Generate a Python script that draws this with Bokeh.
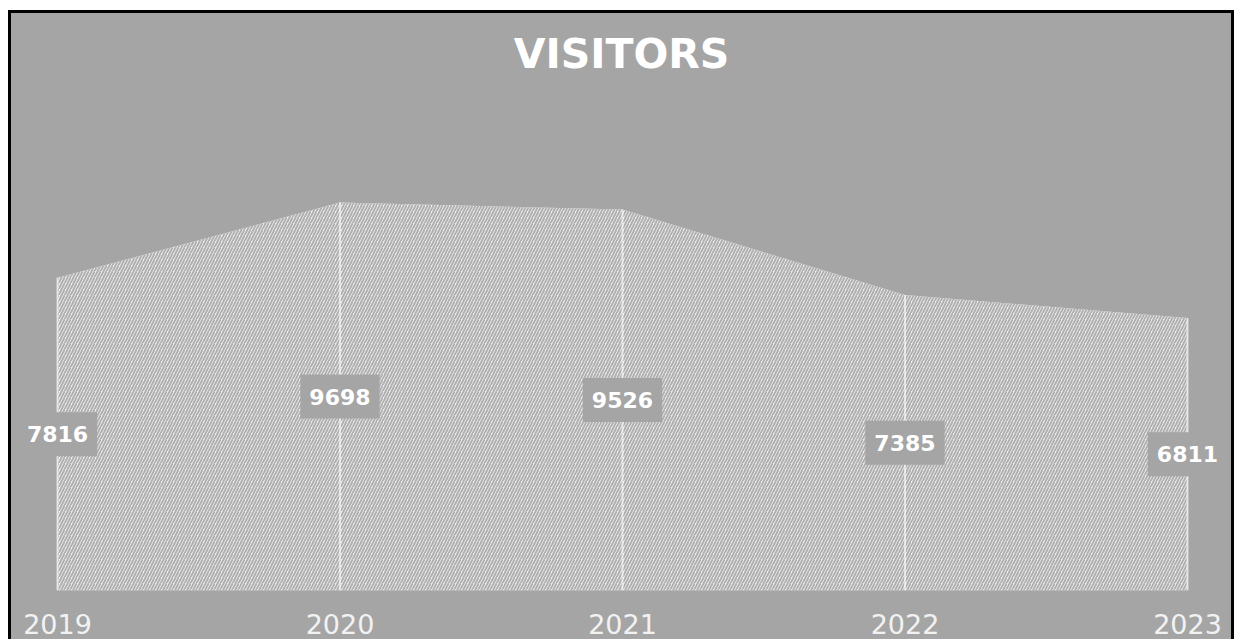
from bokeh.plotting import figure
from bokeh.models import ColumnDataSource, Range1d, FixedTicker
from bokeh.core.properties import value
from bokeh.embed import file_html
from bokeh.resources import INLINE

years = ["2019", "2020", "2021", "2022", "2023"]
visitors = [7816, 9698, 9526, 7385, 6811]

xs = list(range(len(years)))
src = ColumnDataSource(dict(
    x=xs,
    y=visitors,
    y0=[0] * len(years),
    ymid=[v / 2 for v in visitors],
    lab=[str(v) for v in visitors],
))

BG = "#a5a5a5"

p = figure(
    width=1220, height=626,
    output_backend="svg", toolbar_location=None,
    x_range=Range1d(-0.1628, 4.1558),
    y_range=Range1d(0, 12450),
    y_axis_location=None,
    min_border_left=0, min_border_right=0,
    min_border_top=79, min_border_bottom=49,
    background_fill_color=None, border_fill_color=None,
    outline_line_color=None,
    title="VISITORS",
)
p.styles = {"outline": "3px solid #000000",
            "background-color": BG,
            "margin-left": "11px", "margin-top": "13px"}

p.title.align = "center"
p.title.text_color = "#ffffff"
p.title.text_font = "DejaVu Sans"
p.title.text_font_style = "bold"
p.title.text_font_size = "41px"
p.title.standoff = 29

p.grid.visible = False

p.varea(x="x", y1="y0", y2="y", source=src,
        fill_color="#f4f4f4", fill_alpha=1.0,
        hatch_pattern="/", hatch_color="#b0b0b0", hatch_scale=6, hatch_weight=2)

p.segment(x0="x", y0="y0", x1="x", y1="y", source=src,
          line_color="#ffffff", line_width=2, line_alpha=0.6)

p.text(x="x", y="ymid", text="lab", source=src,
       text_align="center", text_baseline="middle",
       text_color="#ffffff", text_font=value("DejaVu Sans"),
       text_font_style="bold", text_font_size="22px",
       background_fill_color=BG, background_fill_alpha=1.0,
       padding=(9, 14))

ax = p.xaxis[0]
ax.ticker = FixedTicker(ticks=xs)
ax.major_label_overrides = {i: y for i, y in zip(xs, years)}
ax.axis_line_color = None
ax.major_tick_line_color = None
ax.minor_tick_line_color = None
ax.major_label_text_color = "#f2f2f2"
ax.major_label_text_font = "DejaVu Sans"
ax.major_label_text_font_size = "27px"
ax.major_label_standoff = 17

open("out.html", "w").write(file_html(p, INLINE))
